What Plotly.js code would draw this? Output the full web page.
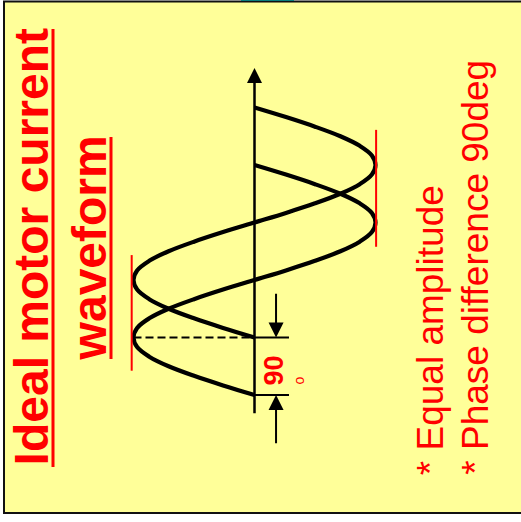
<!DOCTYPE html>
<html>
<head>
<meta charset="utf-8">
<script src="https://cdn.plot.ly/plotly-3.0.1.min.js"></script>
<style>html,body{margin:0;padding:0;background:#fff;}#chart{width:521px;height:522px;}</style>
</head>
<body>
<div id="chart"></div>
<script>
// Phase (electrical degrees) along the time axis and current values (normalised amplitude)
const phaseA = [90,105,120,135,150,165,180,195,210,225,240,255,270,285,300,315,330,345,360,375,390,405,420,435,450];
const phaseB = [0,15,30,45,60,75,90,105,120,135,150,165,180,195,210,225,240,255,270,285,300,315,330,345,360];
const currentA = [0,0.26,0.5,0.71,0.87,0.97,1,0.97,0.87,0.71,0.5,0.26,0,-0.26,-0.5,-0.71,-0.87,-0.97,-1,-0.97,-0.87,-0.71,-0.5,-0.26,0];
const currentB = [0,0.26,0.5,0.71,0.87,0.97,1,0.97,0.87,0.71,0.5,0.26,0,-0.26,-0.5,-0.71,-0.87,-0.97,-1,-0.97,-0.87,-0.71,-0.5,-0.26,0];
const phaseMarks = [0, 90];           // the 90 degree phase difference
const phaseLabel = "90";
const titleLines = ["Ideal motor current", "waveform"];
const noteLines = ["* Equal amplitude", "* Phase difference 90deg"];

const W = 521, H = 522;
const px = v => v / W;
const py = v => 1 - v / H;
const FONT = "Liberation Sans, Arial, sans-serif";
const RED = "#ff0000";

const peak = Math.max(...currentA);
const trough = Math.min(...currentA);

const traces = [
  {x: currentA, y: phaseA, mode: "lines", line: {color: "#000", width: 4.2, shape: "spline"}, hoverinfo: "skip", showlegend: false},
  {x: currentB, y: phaseB, mode: "lines", line: {color: "#000", width: 4.2, shape: "spline"}, hoverinfo: "skip", showlegend: false}
];

const shapes = [
  // slide frame
  {type: "rect", xref: "paper", yref: "paper", x0: px(4), x1: 1.02, y0: py(513), y1: py(1.5),
   fillcolor: "#ffff99", line: {color: "#111", width: 2}, layer: "below"},
  {type: "rect", xref: "paper", yref: "paper", x0: px(241), x1: px(294), y0: py(1), y1: 1.01,
   fillcolor: "#0a7d7d", line: {width: 0}, layer: "below"},
  // title underlines
  {type: "line", xref: "paper", yref: "paper", x0: px(53), x1: px(53), y0: py(467), y1: py(29), line: {color: RED, width: 3}},
  {type: "line", xref: "paper", yref: "paper", x0: px(111), x1: px(111), y0: py(359), y1: py(137), line: {color: RED, width: 3}},
  // peak markers (equal amplitude)
  {type: "line", xref: "x", yref: "y", x0: peak * 1.015, x1: peak * 1.015, y0: 38, y1: 219, line: {color: RED, width: 2}},
  {type: "line", xref: "x", yref: "y", x0: trough * 1.005, x1: trough * 1.005, y0: 232, y1: 415, line: {color: RED, width: 2}},
  // dashed line from peak to axis
  {type: "line", xref: "x", yref: "y", x0: peak, x1: 0, y0: phaseMarks[1], y1: phaseMarks[1], line: {color: "#000", width: 2, dash: "8px,4px"}},
  // dimension ticks
  {type: "line", xref: "x", yref: "y", x0: 0, x1: -0.285, y0: phaseMarks[0], y1: phaseMarks[0], line: {color: "#000", width: 2}},
  {type: "line", xref: "x", yref: "y", x0: 0, x1: -0.285, y0: phaseMarks[1], y1: phaseMarks[1], line: {color: "#000", width: 2}}
];

const annotations = [
  // time axis with arrow
  {x: 0, y: 512, ax: 0, ay: -31, xref: "x", yref: "y", axref: "x", ayref: "y", text: "",
   showarrow: true, arrowhead: 2, arrowsize: 1.2, arrowwidth: 2.5, arrowcolor: "#000", standoff: 0},
  // dimension arrows
  {x: -0.178, y: phaseMarks[1], ax: -0.178, ay: 161, xref: "x", yref: "y", axref: "x", ayref: "y", text: "",
   showarrow: true, arrowhead: 2, arrowsize: 1.5, arrowwidth: 2, arrowcolor: "#000", standoff: 0},
  {x: -0.178, y: phaseMarks[0], ax: -0.178, ay: -78, xref: "x", yref: "y", axref: "x", ayref: "y", text: "",
   showarrow: true, arrowhead: 2, arrowsize: 1.5, arrowwidth: 2, arrowcolor: "#000", standoff: 0},
  // texts
  {xref: "paper", yref: "paper", x: px(31.4), y: py(247), xanchor: "center", yanchor: "middle", textangle: -90, showarrow: false,
   text: "<b>" + titleLines[0] + "</b>", font: {family: FONT, size: 48, color: RED}},
  {xref: "paper", yref: "paper", x: px(89.4), y: py(248), xanchor: "center", yanchor: "middle", textangle: -90, showarrow: false,
   text: "<b>" + titleLines[1] + "</b>", font: {family: FONT, size: 48, color: RED}},
  {xref: "paper", yref: "paper", x: px(430.2), y: py(477), xanchor: "center", yanchor: "bottom", textangle: -90, showarrow: false,
   text: noteLines[0], font: {family: FONT, size: 37, color: RED}},
  {xref: "paper", yref: "paper", x: px(475.2), y: py(477), xanchor: "center", yanchor: "bottom", textangle: -90, showarrow: false,
   text: noteLines[1], font: {family: FONT, size: 37, color: RED}},
  {xref: "paper", yref: "paper", x: px(273.6), y: py(371), xanchor: "center", yanchor: "middle", textangle: -90, showarrow: false,
   text: "<b>" + phaseLabel + "</b>", font: {family: FONT, size: 27, color: RED}},
  {xref: "paper", yref: "paper", x: px(298), y: py(380.5), xanchor: "center", yanchor: "middle", textangle: -90, showarrow: false,
   text: "o", font: {family: FONT, size: 14, color: RED}}
];

const layout = {
  width: W, height: H,
  margin: {l: 0, r: 0, t: 0, b: 0, pad: 0},
  paper_bgcolor: "#ffffff", plot_bgcolor: "rgba(0,0,0,0)",
  xaxis: {range: [254.5 / 121, -(521 - 254.5) / 121], visible: false, fixedrange: true},
  yaxis: {range: [(395 - 522) / 0.6389, 395 / 0.6389], visible: false, fixedrange: true},
  shapes: shapes,
  annotations: annotations,
  showlegend: false
};

Plotly.newPlot("chart", traces, layout, {staticPlot: true, displayModeBar: false});
</script>
</body>
</html>
